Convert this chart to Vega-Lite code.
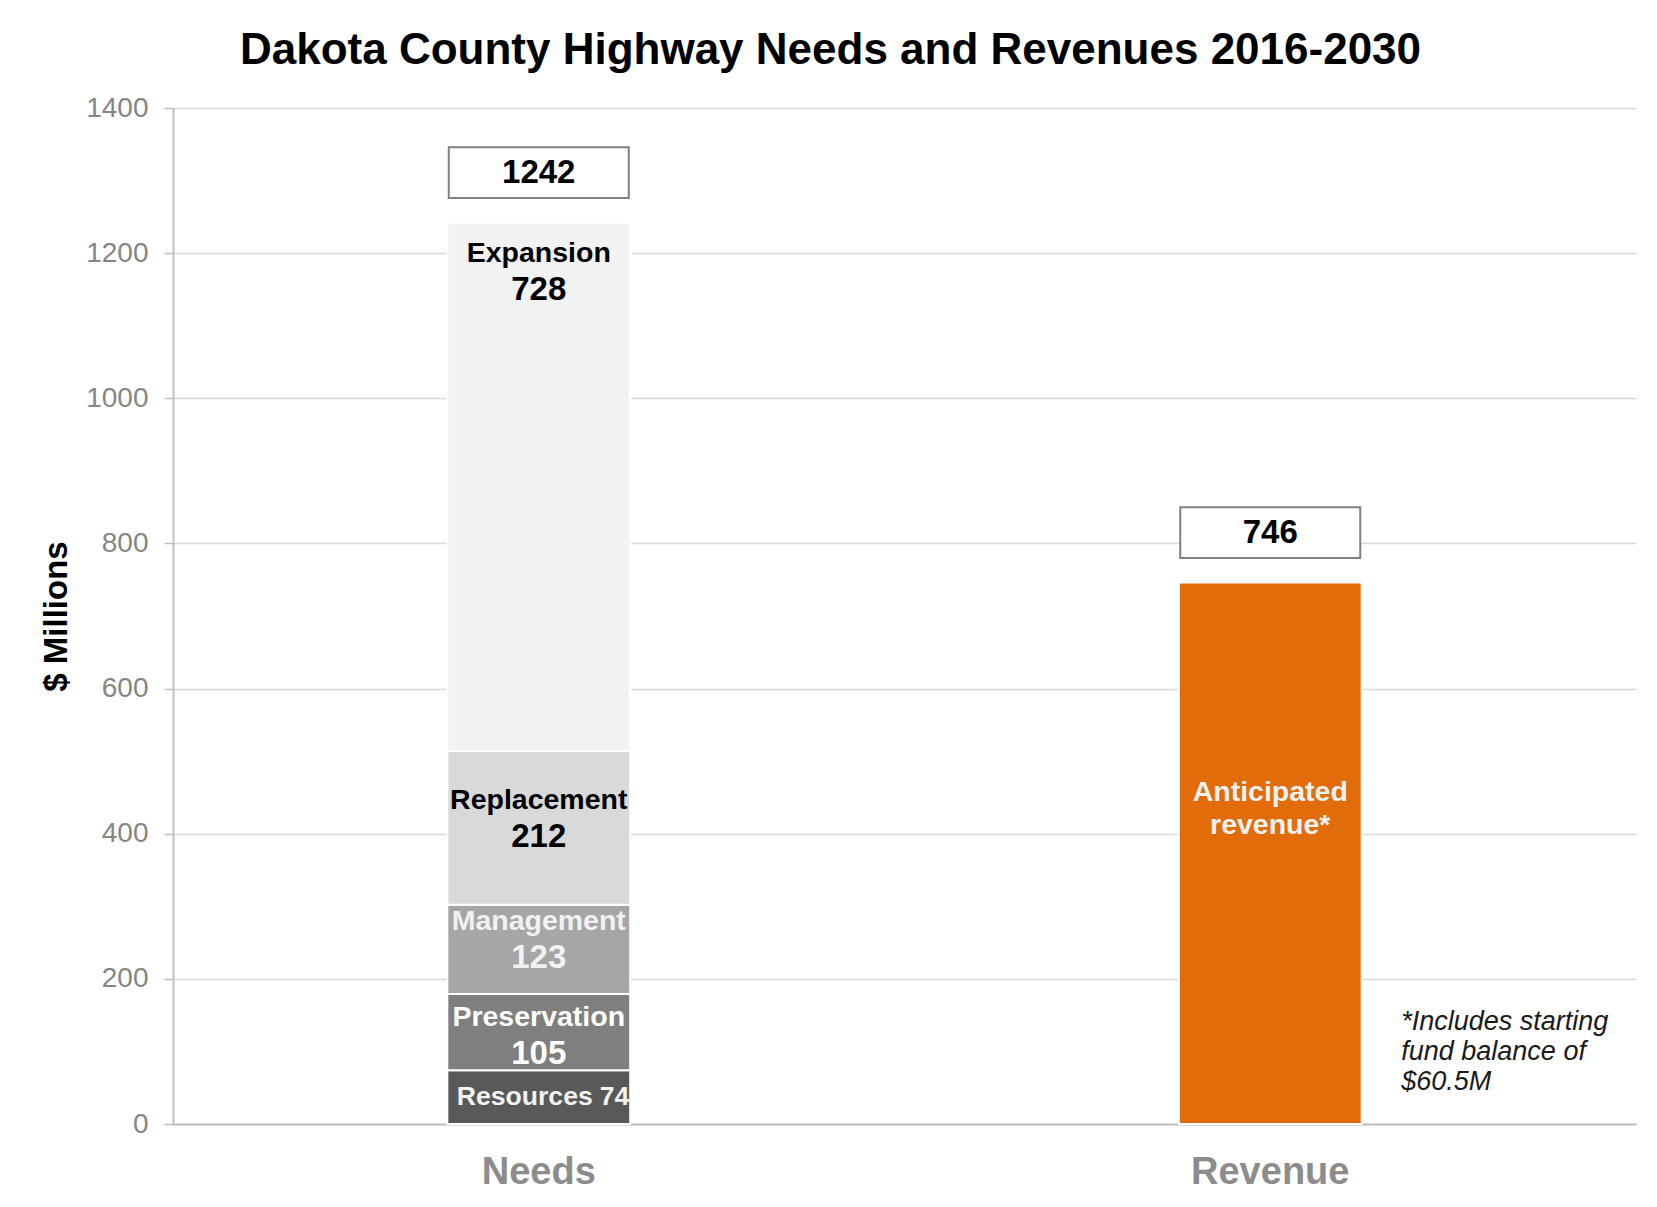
{
  "$schema": "https://vega.github.io/schema/vega-lite/v6.json",
  "autosize": "none",
  "width": 1463,
  "height": 1016,
  "padding": {"left": 173, "top": 108, "right": 21, "bottom": 83},
  "background": "white",
  "config": {
    "view": {"stroke": null},
    "font": "Liberation Sans",
    "axisY": {
      "tickCount": 7,
      "grid": true,
      "gridColor": "#d9d9d9",
      "gridWidth": 1.5,
      "domainColor": "#bfbfbf",
      "domainWidth": 2,
      "tickColor": "#bfbfbf",
      "tickSize": 9,
      "tickWidth": 1.5,
      "labelFont": "Liberation Sans",
      "labelFontSize": 28,
      "labelColor": "#858585",
      "labelPadding": 16,
      "titleFont": "Liberation Sans",
      "titleFontSize": 33,
      "titleFontWeight": "bold",
      "titleColor": "#000000",
      "titlePadding": 12
    }
  },
  "title": {
    "text": "Dakota County Highway Needs and Revenues 2016-2030",
    "font": "Liberation Sans",
    "fontSize": 44,
    "fontWeight": "bold",
    "color": "#000000",
    "anchor": "middle",
    "frame": "group",
    "dx": -74,
    "offset": -14,
    "baseline": "alphabetic"
  },
  "data": {
    "values": [
      {"group": "Needs", "category": "Resources", "value": 74, "rank": 1},
      {"group": "Needs", "category": "Preservation", "value": 105, "rank": 2},
      {"group": "Needs", "category": "Management", "value": 123, "rank": 3},
      {"group": "Needs", "category": "Replacement", "value": 212, "rank": 4},
      {"group": "Needs", "category": "Expansion", "value": 728, "rank": 5},
      {"group": "Revenue", "category": "Anticipated revenue*", "value": 746, "rank": 1}
    ]
  },
  "encoding": {
    "x": {
      "field": "group",
      "type": "nominal",
      "sort": ["Needs", "Revenue"],
      "scale": {"paddingInner": 0.75, "paddingOuter": 0.375},
      "axis": {
        "title": null,
        "labelAngle": 0,
        "labelFont": "Liberation Sans",
        "labelFontSize": 38,
        "labelFontWeight": "bold",
        "labelColor": "#8c8c8c",
        "labelPadding": 29,
        "ticks": false,
        "tickSize": 0,
        "domainColor": "#bfbfbf",
        "domainWidth": 2,
        "grid": false
      }
    }
  },
  "layer": [
    {
      "mark": {"type": "bar", "stroke": "white", "strokeWidth": 2},
      "encoding": {
        "y": {"field": "value", "type": "quantitative", "stack": "zero", "title": "$ Millions", "scale": {"domain": [0, 1400], "nice": false}, "axis": {"format": "d"}},
        "color": {
          "field": "category",
          "type": "nominal",
          "scale": {
            "domain": ["Resources", "Preservation", "Management", "Replacement", "Expansion", "Anticipated revenue*"],
            "range": ["#595959", "#7f7f7f", "#a6a6a6", "#d9d9d9", "#f2f2f2", "#e36c0a"]
          },
          "legend": null
        },
        "order": {"field": "rank", "type": "quantitative"}
      }
    },
    {
      "mark": {"type": "point", "shape": "M-1,-0.282L1,-0.282L1,0.282L-1,0.282Z", "size": 32400, "filled": true, "fill": "white", "stroke": "#7f7f7f", "strokeWidth": 2, "opacity": 1, "fillOpacity": 1, "yOffset": -50},
      "encoding": {
        "y": {"aggregate": "sum", "field": "value", "type": "quantitative", "title": "$ Millions"}
      }
    },
    {
      "mark": {"type": "text", "font": "Liberation Sans", "fontSize": 33, "fontWeight": "bold", "baseline": "middle", "dy": -50, "color": "#000000"},
      "encoding": {
        "y": {"aggregate": "sum", "field": "value", "type": "quantitative", "title": "$ Millions"},
        "text": {"aggregate": "sum", "field": "value", "type": "quantitative"}
      }
    },
    {
      "mark": {"type": "text", "font": "Liberation Sans", "fontSize": 28.5, "fontWeight": "bold", "baseline": "middle", "dy": -28},
      "encoding": {
        "y": {"field": "value", "type": "quantitative", "stack": "zero", "bandPosition": 0.5, "title": "$ Millions"},
        "detail": {"field": "category"},
        "order": {"field": "rank", "type": "quantitative"},
        "text": {"condition": {"test": "indexof(['Management','Replacement'], datum.category) >= 0", "field": "category", "type": "nominal"}, "value": ""},
        "color": {"condition": {"test": "datum.category === 'Replacement'", "value": "#000000"}, "value": "#f2f2f2"}
      }
    },
    {
      "mark": {"type": "text", "font": "Liberation Sans", "fontSize": 33, "fontWeight": "bold", "baseline": "middle", "dy": 9},
      "encoding": {
        "y": {"field": "value", "type": "quantitative", "stack": "zero", "bandPosition": 0.5, "title": "$ Millions"},
        "detail": {"field": "category"},
        "order": {"field": "rank", "type": "quantitative"},
        "text": {"condition": {"test": "indexof(['Management','Replacement'], datum.category) >= 0", "field": "value", "type": "quantitative"}, "value": ""},
        "color": {"condition": {"test": "datum.category === 'Replacement'", "value": "#000000"}, "value": "#f2f2f2"}
      }
    },
    {
      "mark": {"type": "text", "font": "Liberation Sans", "fontSize": 28.5, "fontWeight": "bold", "baseline": "middle", "dy": -15, "color": "#ffffff"},
      "encoding": {
        "y": {"field": "value", "type": "quantitative", "stack": "zero", "bandPosition": 0.5, "title": "$ Millions"},
        "detail": {"field": "category"},
        "order": {"field": "rank", "type": "quantitative"},
        "text": {"condition": {"test": "datum.category === 'Preservation'", "field": "category", "type": "nominal"}, "value": ""}
      }
    },
    {
      "mark": {"type": "text", "font": "Liberation Sans", "fontSize": 33, "fontWeight": "bold", "baseline": "middle", "dy": 22, "color": "#ffffff"},
      "encoding": {
        "y": {"field": "value", "type": "quantitative", "stack": "zero", "bandPosition": 0.5, "title": "$ Millions"},
        "detail": {"field": "category"},
        "order": {"field": "rank", "type": "quantitative"},
        "text": {"condition": {"test": "datum.category === 'Preservation'", "field": "value", "type": "quantitative"}, "value": ""}
      }
    },
    {
      "mark": {"type": "text", "font": "Liberation Sans", "fontSize": 28.5, "fontWeight": "bold", "baseline": "middle", "dy": 30, "color": "#000000"},
      "encoding": {
        "y": {"field": "value", "type": "quantitative", "stack": "zero", "title": "$ Millions"},
        "detail": {"field": "category"},
        "order": {"field": "rank", "type": "quantitative"},
        "text": {"condition": {"test": "datum.category === 'Expansion'", "field": "category", "type": "nominal"}, "value": ""}
      }
    },
    {
      "mark": {"type": "text", "font": "Liberation Sans", "fontSize": 33, "fontWeight": "bold", "baseline": "middle", "dy": 67, "color": "#000000"},
      "encoding": {
        "y": {"field": "value", "type": "quantitative", "stack": "zero", "title": "$ Millions"},
        "detail": {"field": "category"},
        "order": {"field": "rank", "type": "quantitative"},
        "text": {"condition": {"test": "datum.category === 'Expansion'", "field": "value", "type": "quantitative"}, "value": ""}
      }
    },
    {
      "transform": [{"filter": "datum.category === 'Resources'"}],
      "mark": {"type": "text", "font": "Liberation Sans", "fontSize": 26.6, "fontWeight": "bold", "baseline": "middle", "align": "right", "dx": 54, "color": "#f2f2f2"},
      "encoding": {
        "y": {"field": "value", "type": "quantitative", "stack": "zero", "bandPosition": 0.5, "title": "$ Millions"},
        "detail": {"field": "category"},
        "text": {"field": "category", "type": "nominal"}
      }
    },
    {
      "transform": [{"filter": "datum.category === 'Resources'"}],
      "mark": {"type": "text", "font": "Liberation Sans", "fontSize": 26.6, "fontWeight": "bold", "baseline": "middle", "align": "left", "dx": 61, "color": "#f2f2f2"},
      "encoding": {
        "y": {"field": "value", "type": "quantitative", "stack": "zero", "bandPosition": 0.5, "title": "$ Millions"},
        "detail": {"field": "category"},
        "text": {"field": "value", "type": "quantitative"}
      }
    },
    {
      "transform": [{"filter": "datum.group === 'Revenue'"}],
      "mark": {"type": "text", "font": "Liberation Sans", "fontSize": 28.5, "fontWeight": "bold", "baseline": "middle", "lineBreak": " ", "lineHeight": 33, "color": "#f2f2f2"},
      "encoding": {
        "y": {"field": "value", "type": "quantitative", "stack": "zero", "bandPosition": 0.614, "title": "$ Millions"},
        "detail": {"field": "category"},
        "text": {"field": "category", "type": "nominal"}
      }
    },
    {
      "data": {"values": [{"note": "*Includes starting\nfund balance of\n$60.5M"}]},
      "mark": {"type": "text", "font": "Liberation Sans", "fontSize": 27, "fontStyle": "italic", "align": "left", "baseline": "top", "lineBreak": "\n", "lineHeight": 30, "dx": 131, "color": "#1a1a1a"},
      "encoding": {
        "x": {"datum": "Revenue"},
        "y": {"datum": 159, "type": "quantitative", "title": "$ Millions"},
        "text": {"field": "note", "type": "nominal"}
      }
    }
  ]
}
